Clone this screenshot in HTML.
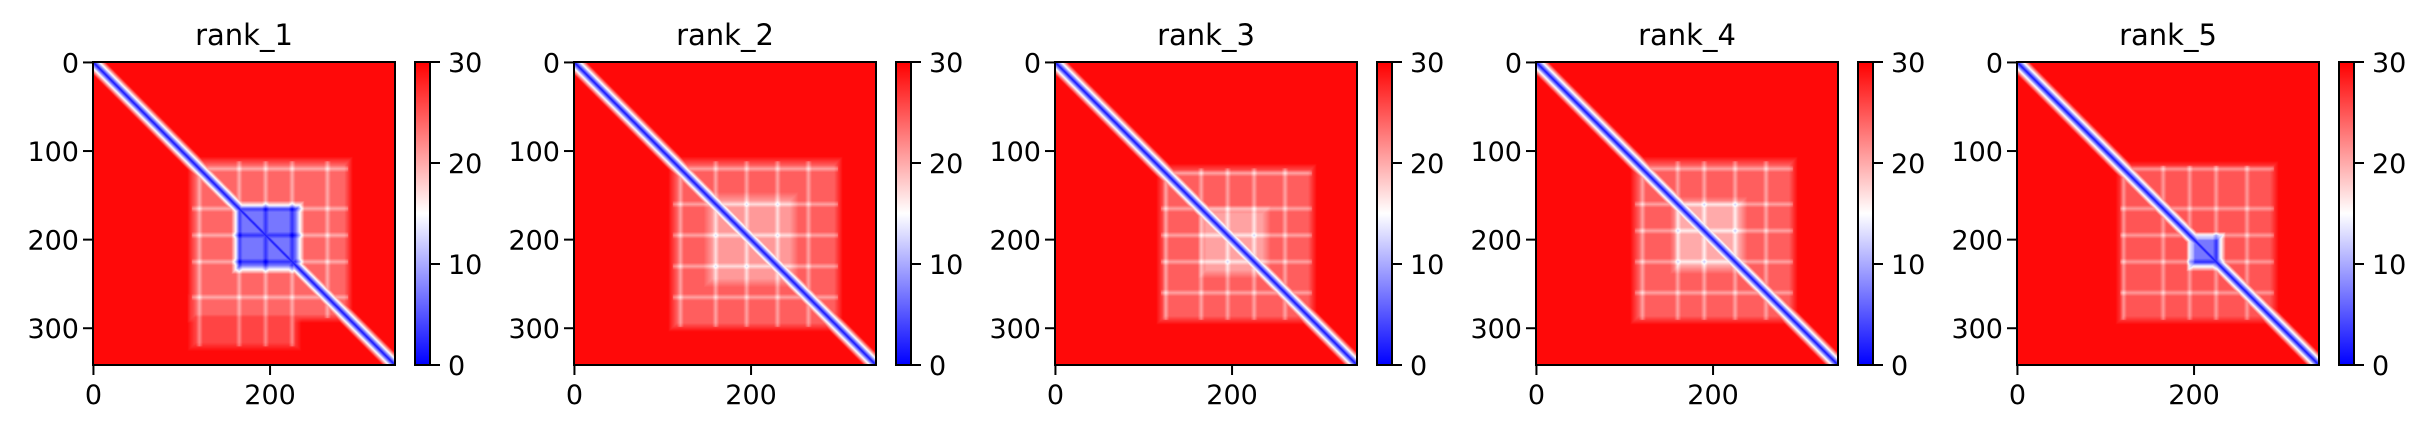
<!DOCTYPE html>
<html><head><meta charset="utf-8">
<style>
html,body{margin:0;padding:0;background:#fff;}
#wrap{position:relative;width:2428px;height:432px;overflow:hidden;background:#fff;}
canvas{position:absolute;}
svg{position:absolute;left:0;top:0;}
text{font-family:"DejaVu Sans","Liberation Sans",sans-serif;fill:#000;}
</style></head>
<body>
<div id="wrap">
<svg id="ov" width="2428" height="432">
<defs><linearGradient id="bwr" x1="0" y1="1" x2="0" y2="0">
<stop offset="0" stop-color="#0000ff"/><stop offset="0.5" stop-color="#ffffff"/><stop offset="1" stop-color="#ff0000"/>
</linearGradient></defs>
</svg>
</div>
<script>
const N = 342;
const panelTitles = ["rank_1","rank_2","rank_3","rank_4","rank_5"];
const xTicks = [0,200];
const yTicks = [0,100,200,300];
const cbarTicks = [0,10,20,30];
const background = [29.5,29.5,29.5,29.5,29.5];
// domain blocks: [rowStart,rowEnd,colStart,colEnd,pae]
const blocksRank1 = [[110,290,110,290,24],[265,322,110,232,26],[160,235,160,235,7]];
const blocksRank2 = [[110,300,110,300,24.5],[150,250,150,250,21]];
const blocksRank3 = [[118,292,118,292,24.5],[165,240,165,240,20.5]];
const blocksRank4 = [[110,292,110,292,24.5],[155,235,155,235,20]];
const blocksRank5 = [[115,292,115,292,25],[195,232,195,232,7]];
const allBlocks = [blocksRank1,blocksRank2,blocksRank3,blocksRank4,blocksRank5];
// residues forming whiter streaks (rows and columns)
const streaksRank1 = [120,165,195,225,265];
const streaksRank2 = [120,160,195,230,265];
const streaksRank3 = [125,165,195,225,260];
const streaksRank4 = [120,160,190,225,260];
const streaksRank5 = [120,165,195,225,260];
const allStreaks = [streaksRank1,streaksRank2,streaksRank3,streaksRank4,streaksRank5];
const diagBase = 1.0, diagSlope = 2.0;

const AX_X0 = 93, AX_Y0 = 62, AX_W = 302, AX_H = 303, STEP = 481;
const CB_DX = 322, CB_W = 15;
const VMIN = 0, VMAX = 30;

function bwr(v){
  let t = (v - VMIN)/(VMAX - VMIN); t = Math.max(0, Math.min(1, t));
  if (t < 0.5){ const k = t/0.5; return [Math.round(255*k), Math.round(255*k), 255]; }
  const k = (1-t)/0.5; return [255, Math.round(255*k), Math.round(255*k)];
}
function edge(i,a,b){ const d = Math.min(i-a, b-i); return Math.max(0, Math.min(1, (d+4)/10)); }
function pae(p,i,j){
  let v = background[p];
  let inDom = false;
  for (const b of allBlocks[p]){
    const w = Math.min(edge(i,b[0],b[1]), edge(j,b[2],b[3]));
    if (w > 0){ v = Math.min(v, v + (b[4]-v)*w); }
    if (w > 0.5) inDom = true;
  }
  if (inDom){
    for (const s of allStreaks[p]){
      const d = Math.min(Math.abs(i-s), Math.abs(j-s));
      if (d < 4) v = Math.min(v, v - 4*(1-d/4));
    }
  }
  v = Math.min(v, diagBase + diagSlope*Math.abs(i-j));
  return v;
}
function sx(p,val){ return AX_X0 + STEP*p + (val+0.5)/N*AX_W; }
function sy(val){ return AX_Y0 + (val+0.5)/N*AX_H; }

const wrap = document.getElementById('wrap');
const svg = document.getElementById('ov');
const NS = "http://www.w3.org/2000/svg";
function mk(tag, attrs, parent){
  const e = document.createElementNS(NS, tag);
  for (const k in attrs) e.setAttribute(k, attrs[k]);
  (parent||svg).appendChild(e); return e;
}

panelTitles.forEach((title,p)=>{
  const x0 = AX_X0 + STEP*p;
  const cv = document.createElement('canvas');
  
  
  cv.width = N; cv.height = N;
  cv.style.left = x0 + 'px'; cv.style.top = AX_Y0 + 'px';
  cv.style.width = AX_W + 'px'; cv.style.height = AX_H + 'px';
  const ctx = cv.getContext('2d');
  const img = ctx.createImageData(N, N);
  for (let i=0;i<N;i++) for (let j=0;j<N;j++){
    const c = bwr(pae(p,i,j)); const o = (i*N+j)*4;
    img.data[o]=c[0]; img.data[o+1]=c[1]; img.data[o+2]=c[2]; img.data[o+3]=255;
  }
  ctx.putImageData(img,0,0);
  wrap.insertBefore(cv, svg);

  const g = mk('g', {});
  
  
  const t = mk('text', {x: x0 + AX_W/2, y: 45, 'text-anchor':'middle', 'font-size':'29'}, g);
  t.textContent = title;
  
  
  const fr = mk('rect', {x:x0, y:AX_Y0, width:AX_W, height:AX_H, fill:'none', stroke:'#000', 'stroke-width':'2'}, g);
  
  
  yTicks.forEach(v=>{
    const y = sy(v);
    mk('line', {x1:x0-10, x2:x0, y1:y, y2:y, stroke:'#000', 'stroke-width':'2'}, g);
    const tl = mk('text', {x:x0-14, y:y+10, 'text-anchor':'end', 'font-size':'27'}, g);
    tl.textContent = v;
    
    
  });
  xTicks.forEach(v=>{
    const x = sx(p,v);
    mk('line', {x1:x, x2:x, y1:AX_Y0+AX_H, y2:AX_Y0+AX_H+10, stroke:'#000', 'stroke-width':'2'}, g);
    const tl = mk('text', {x:x, y:404, 'text-anchor':'middle', 'font-size':'27'}, g);
    tl.textContent = v;
    
    
  });
  const cx = x0 + CB_DX;
  const cb = mk('rect', {x:cx, y:AX_Y0, width:CB_W, height:AX_H, fill:'url(#bwr)', stroke:'#000', 'stroke-width':'2'}, g);
  
  
  cbarTicks.forEach(v=>{
    const y = AX_Y0 + AX_H - (v-VMIN)/(VMAX-VMIN)*AX_H;
    mk('line', {x1:cx+CB_W, x2:cx+CB_W+10, y1:y, y2:y, stroke:'#000', 'stroke-width':'2'}, g);
    const tl = mk('text', {x:cx+CB_W+18, y:y+10, 'text-anchor':'start', 'font-size':'27'}, g);
    tl.textContent = v;
    
    
  });
});
</script>
</body></html>
